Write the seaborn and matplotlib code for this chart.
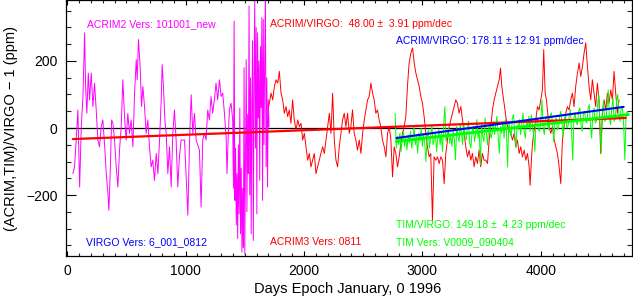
import matplotlib
matplotlib.use("Agg")
import matplotlib.pyplot as plt
import pandas as pd
import seaborn as sns
from matplotlib.ticker import MultipleLocator

# ACRIM2 / VIRGO (magenta), days since Jan 0 1996, ppm
acrim2_days = [
    48, 62, 76, 90, 105, 119, 133, 147, 155, 166, 178, 189, 203, 217, 231,
    245, 259, 273, 287, 301, 315, 330, 344, 352, 363, 375, 386, 400, 414, 428,
    442, 456, 470, 484, 498, 512, 526, 540, 555, 569, 583, 591, 602, 616, 628,
    639, 653, 667, 681, 695, 709, 723, 737, 752, 766, 780, 794, 802, 813, 825,
    836, 850, 864, 878, 892, 906, 920, 934, 948, 962, 991, 1019, 1033, 1047,
    1061, 1075, 1089, 1117, 1131, 1145, 1159,
    1173, 1187, 1201, 1215, 1229, 1243, 1257, 1271, 1286, 1300, 1314, 1328,
    1342, 1350, 1359, 1370, 1384, 1398,
    1404, 1410, 1416, 1422, 1428, 1434, 1440, 1446, 1452, 1458, 1464, 1470,
    1476, 1482, 1488, 1494, 1500, 1506, 1512, 1518, 1524, 1530, 1536, 1542,
    1548, 1554, 1560, 1566, 1572, 1578, 1584, 1590, 1596, 1602, 1608, 1614,
    1620, 1626, 1632, 1638, 1644, 1650, 1656, 1662, 1668, 1674, 1680, 1686,
    1692, 1698, 1705,
]
acrim2_vals = [
    -136, -116, -36, 54, -176, 4, 94, 284, 124, 44, 164, 84, 164, 64, 134,
    54, -36, -56, 4, 24, -46, -136, -196, -246, -136, 24, 14, -36, -116, -176,
    -66, 4, 144, 34, -36, 44, -16, 24, -56, 104, 204, 144, 264, 184, 64,
    124, 64, -16, 24, -56, -116, -96, -156, -76, -136, -36, 84, 189, 124, 24,
    -16, -136, -56, -176, -16, 54, -36, -176, -86, -36, -36, -260, -46, 99,
    -16, 44, -36, -66, -236, -36, -16,
    -36, 54, 24, 94, 44, 84, 134, 84, 144, 94, 104, 44,
    -26, -136, -36, 54, 74, 24,
    -180, 319, -216, -60, -290, -136, -330, -50, -256, 60, -316, -120,
    -370, -180, -356, 180, -376, -100, 204, -250, 40, -136, 364, -200,
    150, -316, 84, 260, -336, 120, 384, -60, 300, -256, 284, 30,
    200, -156, 244, 60, 330, -216, 324, -50, 200, 384, -116, 150,
    -176, 84, 4,
]

# ACRIM3 / VIRGO (red)
acrim3_days = [
    1702, 1722, 1736, 1750, 1764, 1778, 1792, 1806, 1820, 1834, 1848, 1862,
    1876, 1890, 1904, 1918, 1933, 1947, 1961, 1975, 1989, 2003, 2017, 2031,
    2045, 2059, 2073, 2087, 2101, 2115, 2129, 2143, 2158, 2172, 2186, 2200,
    2214, 2228, 2242, 2256, 2270, 2284, 2298, 2312, 2326, 2340,
    2354, 2368, 2382, 2396, 2410, 2424, 2438, 2452, 2467, 2481, 2495, 2509,
    2523, 2537, 2551, 2565, 2579, 2593, 2607, 2621, 2635, 2649, 2663, 2678,
    2692, 2706, 2720, 2734, 2748, 2762, 2776, 2790, 2804, 2818, 2832, 2846,
    2860, 2874, 2888, 2903, 2917, 2931, 2945, 2959, 2973, 2987, 3001, 3015,
    3029, 3043, 3057, 3071, 3085, 3099, 3114, 3128, 3142, 3156, 3170, 3184,
    3198, 3212, 3226, 3240, 3254, 3268, 3282, 3296, 3310, 3325, 3339, 3353,
    3367, 3381, 3395, 3409, 3423, 3437, 3451, 3465, 3479, 3493, 3507, 3521,
    3536, 3550, 3564, 3578, 3592, 3606, 3620, 3634, 3649, 3660, 3671, 3682,
    3694, 3705, 3719, 3733, 3747, 3761, 3775, 3789, 3803, 3817, 3831, 3845,
    3860, 3874, 3888, 3902, 3910, 3921, 3930, 3944, 3958, 3972, 3986, 4000,
    4014, 4025, 4037, 4048, 4059, 4070, 4085, 4099, 4113, 4127, 4141, 4155,
    4169, 4183, 4197, 4211, 4225, 4239, 4253, 4267, 4281, 4295, 4310, 4324,
    4338, 4352, 4366, 4380, 4394, 4408, 4422, 4436, 4450, 4464, 4478, 4492,
    4506, 4521, 4535, 4549, 4563, 4577, 4591, 4605, 4619, 4633, 4647, 4661,
]
acrim3_vals = [
    64, 104, 84, 124, 144, 134, 169, 104, 84, 44, 64, 34,
    54, 14, 84, 24, -6, 24, 4, 14, -36, -16, -56, -96,
    -76, -116, -96, -76, -136, -116, -96, -76, -56, -76, -36, 4,
    44, -16, 104, -36, -96, -116, -56, -16, 24, 44,
    4, 44, -16, 4, 54, -16, -36, -66, -36, -76, -16, 24,
    54, 84, 94, 134, 104, 84, 44, 54, 24, 4, -36, -56,
    -86, -16, 4, -36, -146, -56, -76, -116, -86, -46, -16, 4,
    34, 124, 194, 224, 239, 194, 164, 144, 124, 94, 74, 34,
    -16, -56, -86, -76, -276, -86, -96, -86, -106, -86, -96, -166,
    -76, -36, 4, 24, 44, 64, 84, 74, 44, 64, 24, -16,
    -56, -86, -66, -96, -76, -116, -86, -106, -66, -116, -76, -96,
    -96, -106, -36, 4, 54, 84, 104, 124, 144, 179, 124, 94,
    64, 34, 4, -6, -16, -36, -16, -56, -36, -76, -56, -86,
    -66, -96, -76, -116, -171, -96, -46, -6, 24, 64, 54, 84,
    114, 234, 104, 84, 44, 4, -16, 4, -36, -56, -76, -116,
    -166, -36, 4, 44, 64, 54, 84, 104, 64, 124, 164, 194,
    154, 184, 224, 254, 184, 124, 84, 144, 104, 64, 134, 84,
    -76, 44, 84, 54, 104, 74, 114, 84, 169, 104, 44, 84,
]

# TIM / VIRGO (green), one reading every 10 days from day 2770
tim_days = list(range(2770, 4741, 10))
tim_vals = [
    44, -60, -25, -50, -15, -70, -35, -10, -55, -30, -65, -20,
    -45, -10, -60, -30, 5, -50, -25, -75, -15, -40, 0, -55,
    -20, -45, -100, -30, -5, -60, -25, 10, -50, -35, -15, -70,
    -30, -5, -50, -15, -70, 10, 64, -40, -20, 0, -45, -25,
    -55, -10, -35, -95, 5, -25, -40, 10, -15, -50, 15, -30,
    -35, 0, 20, -45, -60, -10, 5, -40, -20, 25, -30, -5,
    -110, 10, -25, -40, 30, -10, -50, 0, 15, -30, -15, 20,
    -20, 10, 35, -25, -75, 5, -15, 20, -30, 25, -5, -116,
    20, -10, -25, 30, 40, -15, -60, 10, -5, 25, -20, 15,
    45, -10, -30, 20, 0, 35, -10, 40, 5, -20, -70, 25,
    30, -5, -10, 20, 84, 0, -20, 30, 35, 5, -5, 40,
    45, 10, -40, 20, 30, -5, 0, 35, 50, 10, -25, 25,
    40, 0, 5, 35, 55, -10, -96, 30, 45, 15, 10, 50,
    60, 10, -10, 40, 50, 20, 15, 60, 70, 5, -30, 45,
    60, 15, 20, 70, 100, 10, -76, 50, 80, 20, 25, 60,
    114, 30, 10, 60, 90, 20, 30, 80, 100, 40, 20, 65,
    60, 10, -96, 30, 50, 40,
]

# linear trends (end points)
acrim_trend_days = [48, 4717]
acrim_trend_vals = [-33, 30]
acrim3_trend_days = [2780, 4700]
acrim3_trend_vals = [-30, 63]
tim_trend_days = [2780, 4740]
tim_trend_vals = [-40, 40]

MAGENTA = "#ff00ff"
RED = "#ff0000"
GREEN = "#00ff00"
BLUE = "#0000ff"


def main() -> None:
    sns.set_theme(style="ticks")
    plt.rcParams["font.family"] = ["Liberation Sans", "DejaVu Sans"]

    fig = plt.figure(figsize=(6.33, 2.97), dpi=100)
    ax = fig.add_axes([0.1043, 0.138, 0.894, 0.862])

    ax.axhline(0, color="black", linewidth=0.9, zorder=1)

    series = [
        (acrim2_days, acrim2_vals, MAGENTA),
        (acrim3_days, acrim3_vals, RED),
        (tim_days, tim_vals, GREEN),
    ]
    for days, vals, color in series:
        df = pd.DataFrame({"day": days, "val": vals})
        sns.lineplot(data=df, x="day", y="val", color=color, linewidth=0.7,
                     estimator=None, sort=False, ax=ax, zorder=2)

    trends = [
        (acrim_trend_days, acrim_trend_vals, RED, 1.6),
        (tim_trend_days, tim_trend_vals, GREEN, 2.0),
        (acrim3_trend_days, acrim3_trend_vals, BLUE, 1.5),
    ]
    for days, vals, color, lw in trends:
        df = pd.DataFrame({"day": days, "val": vals})
        sns.lineplot(data=df, x="day", y="val", color=color, linewidth=lw,
                     estimator=None, sort=False, ax=ax, zorder=3)

    ax.set_xlim(-10, 4770)
    ax.set_ylim(-382, 382)
    ax.xaxis.set_major_locator(MultipleLocator(1000))
    ax.xaxis.set_minor_locator(MultipleLocator(100))
    ax.yaxis.set_major_locator(MultipleLocator(200))
    ax.yaxis.set_minor_locator(MultipleLocator(50))

    ax.tick_params(axis="x", which="major", direction="in", length=3.8,
                   width=0.8, top=True, bottom=True, labelsize=10, pad=6)
    ax.tick_params(axis="x", which="minor", direction="in", length=1.9,
                   width=0.8, top=True, bottom=True)
    ax.tick_params(axis="y", which="major", direction="in", length=7.5,
                   width=0.8, left=True, right=True, labelsize=10, pad=6)
    ax.tick_params(axis="y", which="minor", direction="in", length=3.8,
                   width=0.8, left=True, right=True)
    for s in ax.spines.values():
        s.set_linewidth(0.9)
        s.set_color("black")
    ax.tick_params(colors="black")

    ax.set_xlabel("Days Epoch January, 0 1996", fontsize=10.5, color="black")
    ax.set_ylabel("(ACRIM,TIM)/VIRGO \u2212 1 (ppm)", fontsize=10.5,
                  color="black")
    ax.yaxis.set_label_coords(-0.085, 0.5)
    ax.xaxis.set_label_coords(0.498, -0.1)

    fs = 7.5
    ax.text(169, 310, "ACRIM2 Vers: 101001_new", color=MAGENTA, fontsize=fs,
            va="center")
    ax.text(1713, 310, "ACRIM/VIRGO:  48.00 \u00b1  3.91 ppm/dec", color=RED,
            fontsize=fs, va="center")
    ax.text(2776, 260, "ACRIM/VIRGO: 178.11 \u00b1 12.91 ppm/dec", color=BLUE,
            fontsize=fs, va="center")
    ax.text(160, -340, "VIRGO Vers: 6_001_0812", color=BLUE, fontsize=fs,
            va="center")
    ax.text(1713, -340, "ACRIM3 Vers: 0811", color=RED, fontsize=fs,
            va="center")
    ax.text(2776, -290, "TIM/VIRGO: 149.18 \u00b1  4.23 ppm/dec", color=GREEN,
            fontsize=fs, va="center")
    ax.text(2776, -340, "TIM Vers: V0009_090404", color=GREEN, fontsize=fs,
            va="center")

    fig.savefig("out.png", dpi=100)


if __name__ == "__main__":
    main()
